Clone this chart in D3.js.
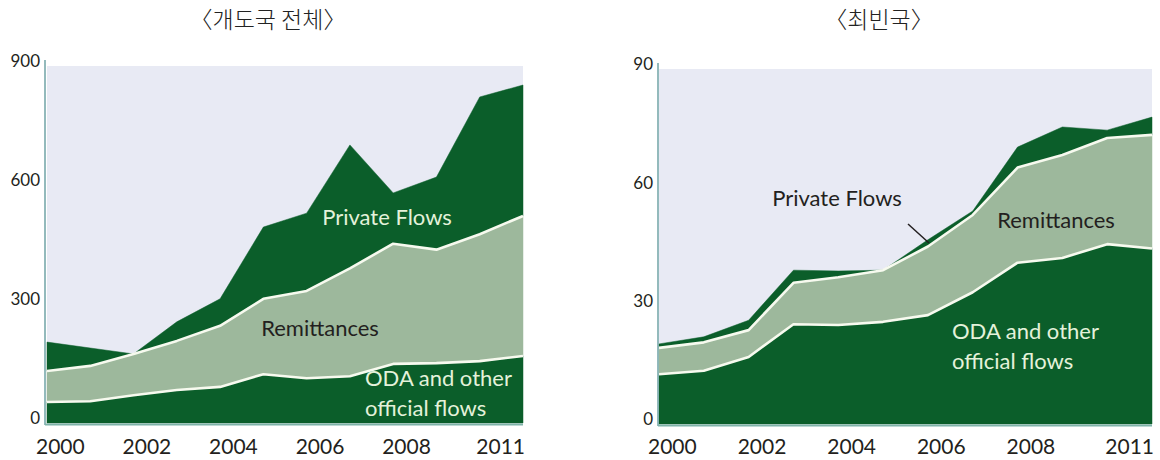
<!DOCTYPE html>
<html>
<head>
<meta charset="utf-8">
<script src="https://cdn.jsdelivr.net/npm/d3@7"></script>
<style>
  html, body { margin: 0; padding: 0; background: #ffffff; }
  svg { display: block; }
</style>
</head>
<body>
<svg id="chart" width="1160" height="460"></svg>
<script>
// ---------------- DATA ----------------
const years = [2000, 2001, 2002, 2003, 2004, 2005, 2006, 2007, 2008, 2009, 2010, 2011];
const xTickYears = [2000, 2002, 2004, 2006, 2008, 2011];
const seriesKeys = ["oda", "remit", "private"];

// 개도국 전체 (all developing countries), values per layer
const allOda     = [53, 55, 70, 83, 91, 123, 113, 118, 149, 151, 156, 169];
const allRemit   = [78, 89, 104, 124, 154, 190, 220, 272, 303, 286, 320, 353];
const allPrivate = [73, 45, 0, 48, 68, 181, 196, 311, 128, 183, 346, 330];
const allYTicks  = [0, 300, 600, 900];

// 최빈국 (least developed countries), values per layer
const ldcOda     = [12.6, 13.5, 17.0, 25.3, 25.1, 25.9, 27.6, 33.4, 40.9, 42.1, 45.6, 44.5];
const ldcRemit   = [6.7, 7.2, 6.8, 10.5, 12.1, 13.1, 17.4, 19.6, 24.1, 26.1, 26.9, 28.8];
const ldcPrivate = [1.0, 1.4, 2.5, 3.2, 1.6, 0.0, 1.7, 1.0, 5.2, 7.1, 2.0, 4.5];
const ldcYTicks  = [0, 30, 60, 90];

const titles = ["〈개도국 전체〉", "〈최빈국〉"];

// ---------------- STYLE / LAYOUT ----------------
const colors = { oda: "#0b5e2a", remit: "#9db89c", private: "#0b5e2a", bg: "#e8eaf4",
                 edge: "#f7faef", axis: "#6fa3a6", light: "#e4f2da", dark: "#231f20" };
const latin = "Lato, 'Open Sans', 'DejaVu Sans', sans-serif";

const panels = [
  { title: titles[0], titleX: 268, titleY: 22,
    oda: allOda, remit: allRemit, priv: allPrivate, ticks: allYTicks,
    x0: 47, x1: 523, yTop: 66, yBot: 423, axisX: 45,
    labels: [
      { text: ["Private Flows"], x: 387, y: 219, anchor: "middle", fill: "light" },
      { text: ["Remittances"], x: 320, y: 330, anchor: "middle", fill: "dark" },
      { text: ["ODA and other", "official flows"], x: 365, y: 380, anchor: "start", fill: "light" }
    ],
    leader: null },
  { title: titles[1], titleX: 879, titleY: 22,
    oda: ldcOda, remit: ldcRemit, priv: ldcPrivate, ticks: ldcYTicks,
    x0: 659, x1: 1152, yTop: 69, yBot: 424, axisX: 658,
    labels: [
      { text: ["Private Flows"], x: 837, y: 200, anchor: "middle", fill: "dark" },
      { text: ["Remittances"], x: 1056, y: 222, anchor: "middle", fill: "dark" },
      { text: ["ODA and other", "official flows"], x: 952, y: 333, anchor: "start", fill: "light" }
    ],
    leader: [[908, 224], [929, 243]] }
];

const svg = d3.select("#chart");

panels.forEach(p => {
  const g = svg.append("g");
  const table = years.map((yr, i) => ({ year: yr, oda: p.oda[i], remit: p.remit[i], private: p.priv[i] }));
  const stacked = d3.stack().keys(seriesKeys)(table);

  const x = d3.scaleLinear().domain([years[0], years[years.length - 1]]).range([p.x0, p.x1]);
  const y = d3.scaleLinear().domain([0, p.ticks[p.ticks.length - 1]]).range([p.yBot, p.yTop]);

  // title
  svg.append("text").attr("x", p.titleX).attr("y", p.titleY)
    .attr("text-anchor", "middle").attr("dominant-baseline", "middle")
    .attr("font-family", "'Noto Sans CJK KR', sans-serif").attr("font-size", 23)
    .attr("font-weight", 300)
    .attr("fill", "#222").text(p.title);

  // plot background
  g.append("rect").attr("x", x.range()[0]).attr("y", y.range()[1])
    .attr("width", x.range()[1] - x.range()[0]).attr("height", y.range()[0] - y.range()[1])
    .attr("fill", colors.bg);

  const area = d3.area().x(d => x(d.data.year)).y0(d => y(d[0])).y1(d => y(d[1])).curve(d3.curveLinear);
  g.selectAll("path.layer").data(stacked).join("path")
    .attr("class", "layer")
    .attr("d", area)
    .attr("fill", d => colors[d.key])
    .attr("stroke", d => colors[d.key]).attr("stroke-width", 0.5);

  // white boundary lines on tops of ODA and remittances
  const line = d3.line().x(d => x(d.data.year)).y(d => y(d[1]));
  g.selectAll("path.edge").data(stacked.slice(0, 2)).join("path")
    .attr("class", "edge")
    .attr("d", line)
    .attr("fill", "none").attr("stroke", colors.edge).attr("stroke-width", 2.6)
    .attr("stroke-linejoin", "round");

  // axes lines
  g.append("line").attr("x1", p.axisX).attr("x2", p.axisX)
    .attr("y1", y.range()[1] - 6).attr("y2", y.range()[0] + 2)
    .attr("stroke", colors.axis).attr("stroke-width", 1.5);
  g.append("line").attr("x1", p.axisX).attr("x2", x.range()[1])
    .attr("y1", y.range()[0] + 1.5).attr("y2", y.range()[0] + 1.5)
    .attr("stroke", "#7fb3aa").attr("stroke-width", 2);

  // y tick labels
  g.selectAll("text.ytick").data(p.ticks).join("text")
    .attr("class", "ytick")
    .attr("x", p.axisX - 5).attr("y", d => y(d) - 3)
    .attr("text-anchor", "end").attr("dominant-baseline", "middle")
    .attr("font-family", latin).attr("font-size", 17).attr("fill", colors.dark)
    .text(d => d);

  // x tick labels
  const lastYear = xTickYears[xTickYears.length - 1];
  g.selectAll("text.xtick").data(xTickYears).join("text")
    .attr("class", "xtick")
    .attr("x", d => d === lastYear ? x(d) + 2 : x(d) - 11)
    .attr("y", 449)
    .attr("text-anchor", d => d === lastYear ? "end" : "start")
    .attr("dominant-baseline", "middle")
    .attr("font-family", latin).attr("font-size", 21).attr("fill", colors.dark)
    .text(d => d);

  // annotations
  p.labels.forEach(l => {
    const t = g.append("text").attr("x", l.x).attr("y", l.y)
      .attr("text-anchor", l.anchor).attr("dominant-baseline", "middle")
      .attr("font-family", latin).attr("font-size", 22).attr("fill", colors[l.fill]);
    l.text.forEach((s, i) => {
      t.append("tspan").attr("x", l.x).attr("dy", i === 0 ? 0 : 29.5).text(s);
    });
  });

  if (p.leader) {
    g.append("line").attr("x1", p.leader[0][0]).attr("y1", p.leader[0][1])
      .attr("x2", p.leader[1][0]).attr("y2", p.leader[1][1])
      .attr("stroke", colors.dark).attr("stroke-width", 1.5);
  }
});
</script>
</body>
</html>
